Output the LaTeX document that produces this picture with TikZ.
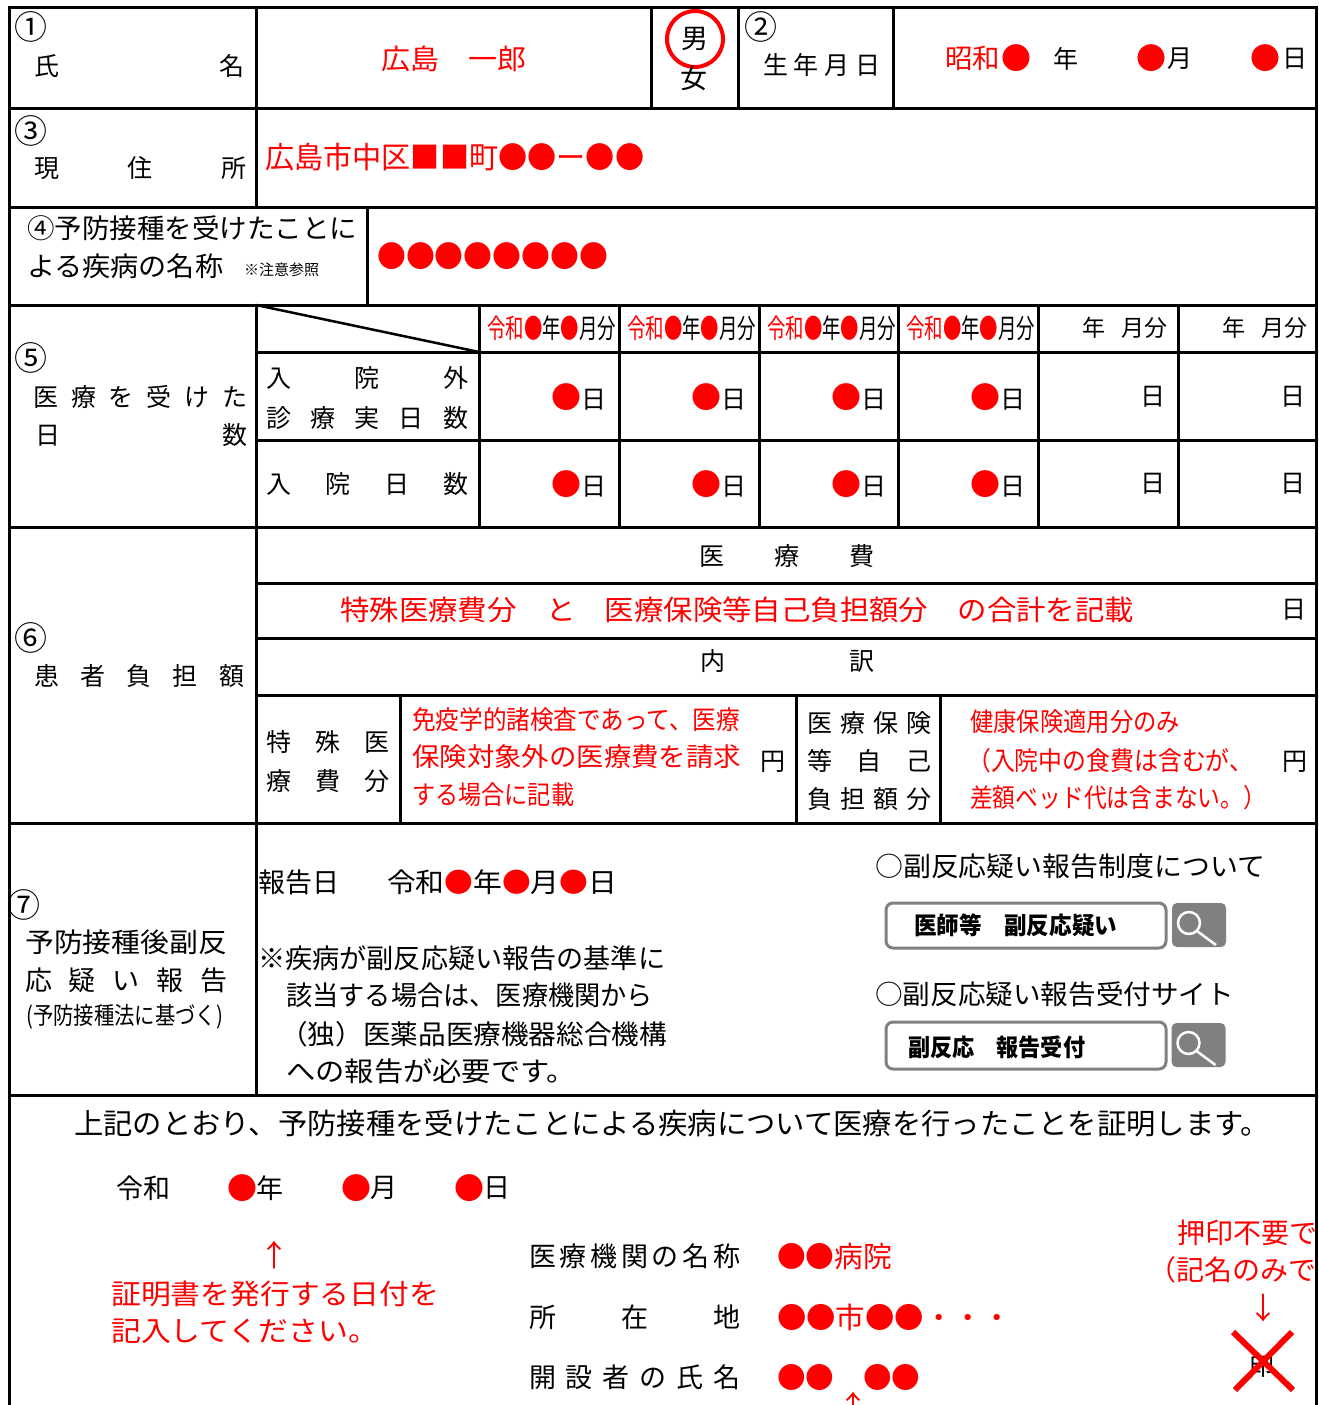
\documentclass[tikz,border=0pt]{standalone}
\usepackage{fontspec}
\setmainfont{Noto Sans CJK JP}
\usepackage{graphicx}
\newcommand{\fsz}[1]{\fontsize{#1}{#1}\selectfont}
\newcommand{\rd}[1]{\textcolor{red}{#1}}
\newcommand{\jfit}[2]{\resizebox{#1}{\height}{#2}}
\newcommand{\jspread}[2]{\makebox[#1]{#2}}
\tikzset{
	lbl/.style={anchor=west, inner sep=0pt, font=\fsz{25}},
	redtxt/.style={lbl, text=red},
	numlbl/.style={inner sep=0pt, font=\fsz{33}},
	dot/.style={inner sep=0pt, text=red, font=\fsz{30}},
	gridline/.style={line width=3pt, line cap=rect},
	searchbox/.style={draw=gray, line width=3pt, rounded corners=7pt, fill=white, minimum width=280pt, inner sep=0pt},
	searchbtn/.style={fill=gray, rounded corners=5pt, minimum width=54pt, minimum height=44pt, inner sep=0pt},
	lens/.style={white, line width=2.5pt}
}
\begin{document}
\begin{tikzpicture}[x=1pt,y=-1pt]
	\fill[white] (0,0) rectangle (1318,1405);
	\useasboundingbox (0,0) rectangle (1318,1405);
	\node[numlbl] (c1) at (31,27) {①};
	\node[lbl] (shimei) at (34,66) {\jspread{210pt}{氏\hfill 名}};
	\node[redtxt, font=\fsz{28}] (namev) at (381,59) {\jfit{145pt}{広島　一郎}};
	\node[lbl, font=\fsz{27}, anchor=center] (male) at (695,39) {男};
	\draw[red, line width=4pt] (male.center) circle (28);
	\node[lbl, font=\fsz{27}, anchor=center] (female) at (694,78) {女};
	\node[numlbl] (c2) at (761,27) {②};
	\node[lbl] (birth) at (763,65) {\jspread{117pt}{生\hfill 年\hfill 月\hfill 日}};
	\node[redtxt, font=\fsz{27}] (showa) at (945,58) {\jfit{55pt}{昭和}};
	\foreach \x [count=\i] in {1016,1151,1265} {
		\node[dot] (bd\i) at (\x,58) {●};
	}
	\node[lbl, anchor=center] (bdy) at (1066,59) {年};
	\node[lbl, anchor=center] (bdm) at (1180,59) {月};
	\node[lbl, anchor=center] (bdd) at (1295,59) {日};
	\node[numlbl] (c3) at (31,131) {③};
	\node[lbl] (addrlbl) at (34,168) {\jspread{212pt}{現\hfill 住\hfill 所}};
	\node[redtxt, font=\fsz{30}] (addr) at (265,157) {\jfit{379pt}{広島市中区■■町●●ー●●}};
	\node[lbl, font=\fsz{27}] (c4) at (27,228) {\jfit{330pt}{④予防接種を受けたことに}};
	\node[lbl, font=\fsz{27}] (disease) at (27,266) {\jfit{196pt}{よる疾病の名称}};
	\node[lbl, font=\fsz{15}] (note) at (244,270) {※注意参照};
	\node[redtxt, font=\fsz{30}] (diseasev) at (377,256) {\jfit{231pt}{●●●●●●●●}};
	\node[numlbl] (c5) at (31,358) {⑤};
	\node[lbl] (days1) at (33,397) {\jspread{214pt}{医\hfill 療\hfill を\hfill 受\hfill け\hfill た}};
	\node[lbl] (days2) at (35,435) {\jspread{212pt}{日\hfill 数}};
	\node[lbl] (outp1) at (266,378) {\jspread{202pt}{入\hfill 院\hfill 外}};
	\node[lbl] (outp2) at (266,418) {\jspread{202pt}{診\hfill 療\hfill 実\hfill 日\hfill 数}};
	\node[lbl] (inp) at (266,484) {\jspread{202pt}{入\hfill 院\hfill 日\hfill 数}};
	\foreach \x [count=\i] in {479,619,759,898} {
		\node[lbl, font=\fsz{27}] (month\i) at (\x+8,328) {\jfit{129pt}{\rd{令和●}年\rd{●}月分}};
		\node[lbl, anchor=east] (outv\i) at (\x+128,397) {{\fsz{30}\rd{●}}日};
		\node[lbl, anchor=east] (inv\i) at (\x+128,484) {{\fsz{30}\rd{●}}日};
	}
	\foreach \x [count=\i from 5] in {1038,1178} {
		\node[lbl, font=\fsz{23}] (month\i) at (\x+44,328) {年\hspace{16pt}月分};
		\node[lbl, anchor=east] (outv\i) at (\x+128,397) {日};
		\node[lbl, anchor=east] (inv\i) at (\x+128,484) {日};
	}
	\node[numlbl] (c6) at (31,638) {⑥};
	\node[lbl] (burden) at (34,676) {\jspread{210pt}{患\hfill 者\hfill 負\hfill 担\hfill 額}};
	\node[lbl] (cost) at (699,556) {\jspread{175pt}{医\hfill 療\hfill 費}};
	\node[redtxt, font=\fsz{28}] (costv) at (340,610) {\jfit{794pt}{特殊医療費分　と　医療保険等自己負担額分　の合計を記載}};
	\node[lbl, anchor=east] (costday) at (1307,610) {日};
	\node[lbl] (breakdown) at (700,661) {\jspread{174pt}{内\hfill 訳}};
	\node[lbl] (sp1) at (266,742) {\jspread{123pt}{特\hfill 殊\hfill 医}};
	\node[lbl] (sp2) at (266,781) {\jspread{123pt}{療\hfill 費\hfill 分}};
	\node[redtxt, font=\fsz{26}] (spv1) at (412,720) {\jfit{328pt}{免疫学的諸検査であって、医療}};
	\node[redtxt, font=\fsz{26}] (spv2) at (412,757) {\jfit{329pt}{保険対象外の医療費を請求}};
	\node[redtxt, font=\fsz{26}] (spv3) at (412,795) {\jfit{162pt}{する場合に記載}};
	\node[lbl, anchor=center] (yen1) at (773,762) {円};
	\node[lbl] (ins1) at (807,723) {\jspread{124pt}{医\hfill 療\hfill 保\hfill 険}};
	\node[lbl] (ins2) at (807,761) {\jspread{124pt}{等\hfill 自\hfill 己}};
	\node[lbl] (ins3) at (807,799) {\jspread{124pt}{負\hfill 担\hfill 額\hfill 分}};
	\node[redtxt, font=\fsz{26}] (insv1) at (970,722) {\jfit{210pt}{健康保険適用分のみ}};
	\node[redtxt, font=\fsz{26}] (insv2) at (967,761) {\jfit{286pt}{（入院中の食費は含むが、}};
	\node[redtxt, font=\fsz{26}] (insv3) at (970,798) {\jfit{296pt}{差額ベッド代は含まない。）}};
	\node[lbl, anchor=center] (yen2) at (1295,762) {円};
	\node[numlbl] (c7) at (24,905) {⑦};
	\node[lbl, font=\fsz{27}] (rep1) at (25,942) {\jfit{202pt}{予防接種後副反}};
	\node[lbl, font=\fsz{27}] (rep2) at (25,980) {\jspread{202pt}{応\hfill 疑\hfill い\hfill 報\hfill 告}};
	\node[lbl, font=\fsz{24}] (rep3) at (26,1017) {\jfit{197pt}{(予防接種法に基づく)}};
	\node[lbl, font=\fsz{27}] (repdate) at (258,882) {報告日};
	\node[lbl, font=\fsz{27}] (repdatev) at (387,882) {\jfit{230pt}{令和\rd{●}年\rd{●}月\rd{●}日}};
	\node[lbl, font=\fsz{27}] (rnote1) at (258,958) {\jfit{407pt}{※疾病が副反応疑い報告の基準に}};
	\node[lbl, font=\fsz{27}] (rnote2) at (286,995) {\jfit{367pt}{該当する場合は、医療機関から}};
	\node[lbl, font=\fsz{27}] (rnote3) at (280,1034) {\jfit{387pt}{（独）医薬品医療機器総合機構}};
	\node[lbl, font=\fsz{27}] (rnote4) at (286,1071) {\jfit{290pt}{への報告が必要です。}};
	\node[lbl, font=\fsz{27}] (sys1) at (875,866) {\jfit{390pt}{○副反応疑い報告制度について}};
	\node[searchbox, minimum height=45pt] (sbox1) at (1026,925.5) {};
	\node[lbl, font=\bfseries\fsz{24}] (skey1) at (914,925) {\jfit{203pt}{医師等　副反応疑い}};
	\node[searchbtn] (sbtn1) at (1199,925) {};
	\draw[lens] ([shift={(-10,-2)}]sbtn1.center) circle (11);
	\draw[lens] ([shift={(-2,6)}]sbtn1.center) -- ([shift={(17,20)}]sbtn1.center);
	\node[lbl, font=\fsz{27}] (sys2) at (875,994) {\jfit{359pt}{○副反応疑い報告受付サイト}};
	\node[searchbox, minimum height=47pt] (sbox2) at (1026,1045.5) {};
	\node[lbl, font=\bfseries\fsz{24}] (skey2) at (908,1047) {\jfit{177pt}{副反応　報告受付}};
	\node[searchbtn] (sbtn2) at (1198.5,1045) {};
	\draw[lens] ([shift={(-10,-2)}]sbtn2.center) circle (11);
	\draw[lens] ([shift={(-2,6)}]sbtn2.center) -- ([shift={(17,20)}]sbtn2.center);
	\node[lbl, font=\fsz{29}] (certify) at (74,1124) {\jfit{1196pt}{上記のとおり、予防接種を受けたことによる疾病について医療を行ったことを証明します。}};
	\node[lbl, font=\fsz{27}] (era) at (116,1188) {令和};
	\foreach \x/\u [count=\i] in {242/年,356/月,469/日} {
		\node[dot] (cd\i) at (\x,1188) {●};
		\node[lbl, font=\fsz{27}] (cu\i) at (\x+14,1188) {\u};
	}
	\node[redtxt, font=\fsz{30}, anchor=center] (arrowup1) at (274,1255) {↑};
	\node[redtxt, font=\fsz{28}] (issue1) at (111,1294) {\jfit{328pt}{証明書を発行する日付を}};
	\node[redtxt, font=\fsz{28}] (issue2) at (111,1331) {\jfit{267pt}{記入してください。}};
	\node[lbl, font=\fsz{27}] (hosp) at (529,1256) {\jspread{211pt}{医\hfill 療\hfill 機\hfill 関\hfill の\hfill 名\hfill 称}};
	\node[redtxt, font=\fsz{29}] (hospv) at (777,1256) {\jfit{115pt}{●●病院}};
	\node[lbl, font=\fsz{27}] (loc) at (529,1317) {\jspread{211pt}{所\hfill 在\hfill 地}};
	\node[redtxt, font=\fsz{29}] (locv) at (777,1317) {\jfit{235pt}{●●市●●・・・}};
	\node[lbl, font=\fsz{27}] (owner) at (529,1377) {\jspread{211pt}{開\hfill 設\hfill 者\hfill の\hfill 氏\hfill 名}};
	\node[redtxt, font=\fsz{29}] (ownerv) at (777,1377) {\jfit{143pt}{●●　●●}};
	\node[redtxt, font=\fsz{30}, anchor=north] (arrowup2) at (853,1392) {↑};
	\node[redtxt, font=\fsz{28}] (nostamp1) at (1177,1233) {押印不要で};
	\node[redtxt, font=\fsz{28}] (nostamp2) at (1148,1270) {（記名のみで};
	\node[redtxt, font=\fsz{30}, anchor=center] (arrowdown) at (1263,1308) {↓};
	\node[lbl, anchor=center] (seal) at (1262,1366) {印};
	\draw[red, line width=6pt] ([shift={(-29,-34)}]seal.center) -- ([shift={(31,24)}]seal.center);
	\draw[red, line width=6pt] ([shift={(30,-34)}]seal.center) -- ([shift={(-27,24)}]seal.center);
	\foreach \y/\a in {8/9,108/9,207/9,305/9,352/256,440/256,527/9,583/256,638/256,695/256,823/9,1095/9}
		\draw[gridline] (\a,\y) -- (1316,\y);
	\foreach \x/\a/\b in {256/8/207,256/305/1095,651/8/108,738/8/108,893/8/108,367/207/305,479/305/527,619/305/527,759/305/527,898/305/527,1038/305/527,1178/305/527,400/695/823,796/695/823,940/695/823}
		\draw[gridline] (\x,\a) -- (\x,\b);
	\draw[gridline] (9,8) -- (9,1405) (1316,8) -- (1316,1405);
	\draw[line width=2.5pt] (256,305) -- (479,352);
\end{tikzpicture}
\end{document}
